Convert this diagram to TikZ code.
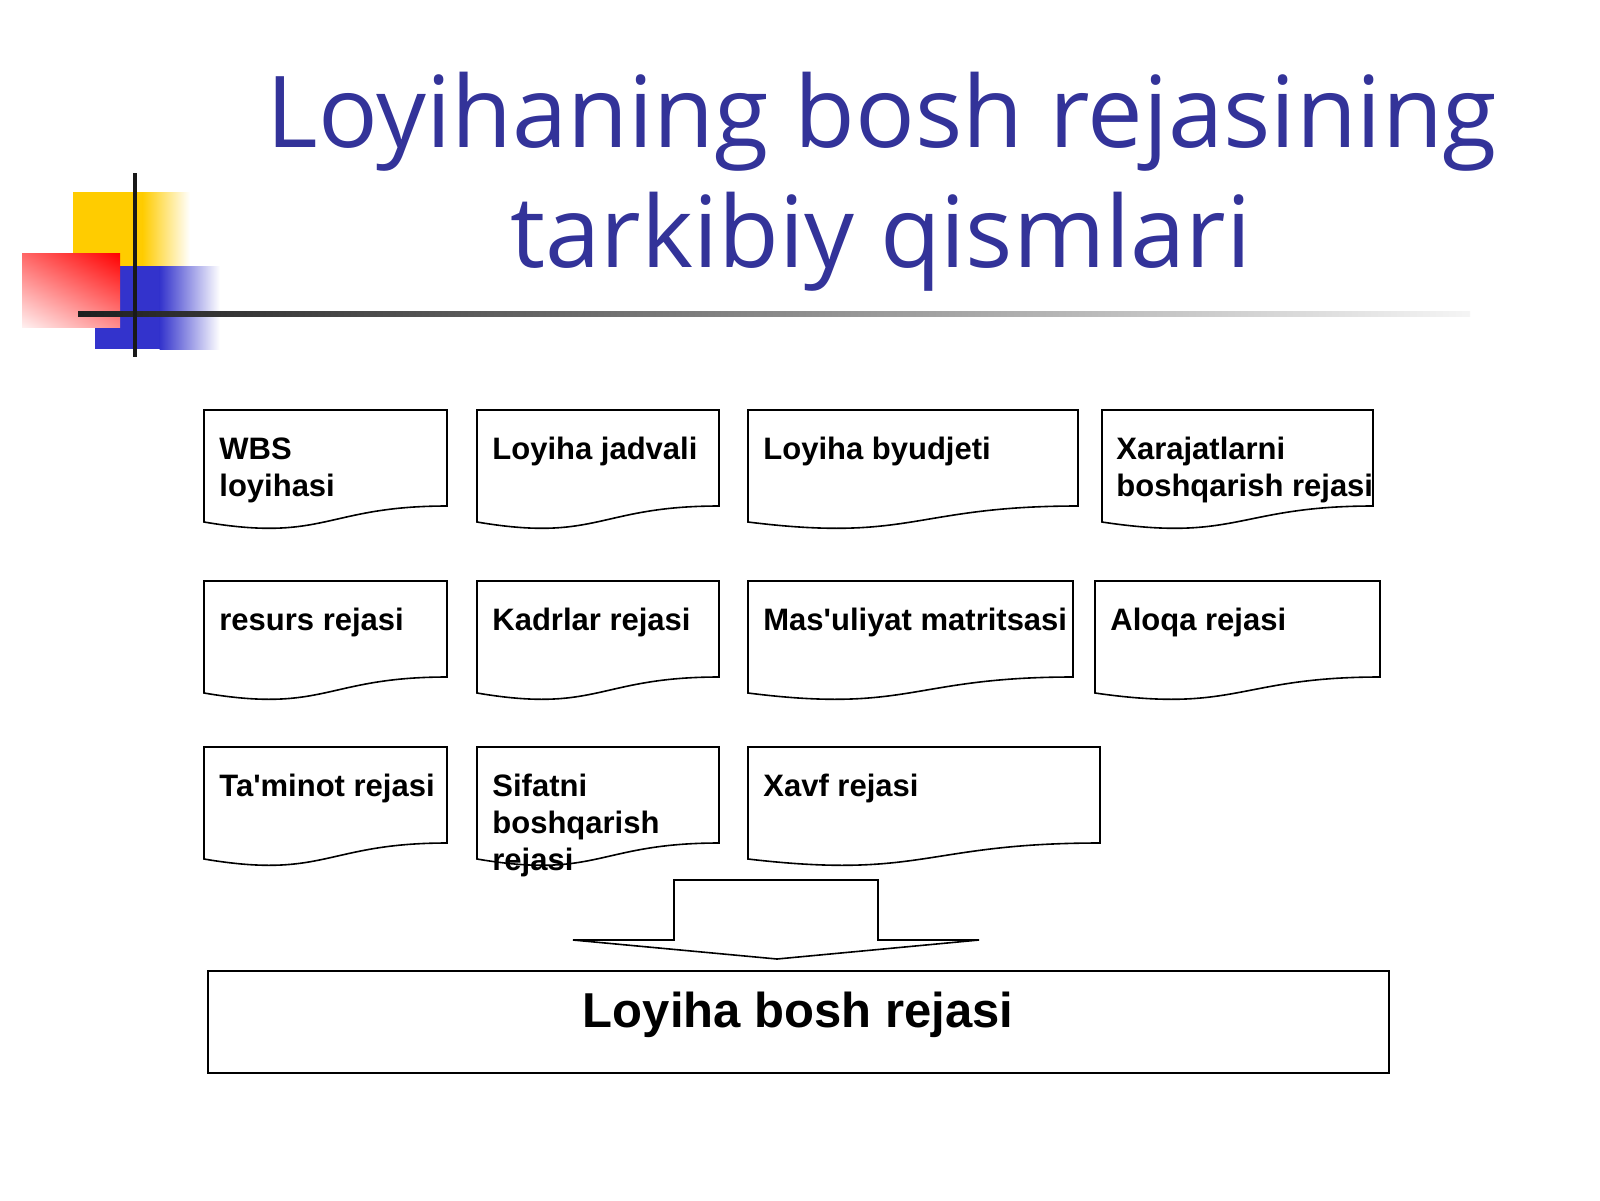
\documentclass[tikz,border=0pt]{standalone}
\usepackage{fontspec}
\usetikzlibrary{shadings}
\setmainfont{Liberation Sans}[Ligatures=TeXOff]
\newfontfamily\titlefont{Open Sans}
\definecolor{titleblue}{RGB}{51,51,153}
\definecolor{decoyellow}{RGB}{255,204,0}
\definecolor{decoblue}{RGB}{51,51,204}
\newcommand\docshape[3]{%
  \draw[docline] (#1,#3) -- (#2,#3) -- (#2,#3+96)
    .. controls ({(#1+#2)/2},#3+96) and ({(#1+#2)/2},#3+132.6) .. (#1,#3+112) -- cycle;}
\newcommand\boxlines[1]{\vtop{\baselineskip=18.5pt\lineskiplimit=-50pt #1}}
\begin{document}
\begin{tikzpicture}[x=0.5pt,y=-0.5pt,
  docline/.style={draw=black,line width=0.8pt},
  boxtext/.style={anchor=base west,inner sep=0pt,font=\bfseries\fontsize{15.5pt}{18.5pt}\selectfont},
  titletext/.style={anchor=base,inner sep=0pt,text=titleblue,font=\titlefont\fontsize{49.6pt}{58pt}\selectfont}]
\useasboundingbox[fill=white] (0,0) rectangle (1600,1200);
% decoration
\fill[decoyellow] (73,192) rectangle (143,268);
\shade[left color=decoyellow,right color=white] (142.5,192) rectangle (190,268);
\fill[decoblue] (95,266) rectangle (160,349);
\shade[left color=decoblue,right color=white] (159.5,266) rectangle (220,349);
\shade[upper left=red!60!white,upper right=red,lower left=red!6!white,lower right=red!45!white] (22,253) rectangle (120,327);
\shade[left color=black!88,middle color=black!70,right color=black!4] (78,311.5) rectangle (1470,316.5);
\fill[black!90] (133,173) rectangle (137,357);
% title
\node[titletext] (t1) at (882,147) {Loyihaning bosh rejasining};
\node[titletext] (t2) at (881,267) {tarkibiy qismlari};
% document boxes
\docshape{204}{447}{410}
\docshape{477}{719}{410}
\docshape{748}{1078}{410}
\docshape{1102}{1373}{410}
\docshape{204}{447}{581}
\docshape{477}{719}{581}
\docshape{748}{1073}{581}
\docshape{1095}{1380}{581}
\docshape{204}{447}{747}
\docshape{477}{719}{747}
\docshape{748}{1100}{747}
\node[boxtext] (b1) at (219,459) {\boxlines{\hbox{WBS}\hbox{loyihasi}}};
\node[boxtext] (b2) at (492,459) {Loyiha jadvali};
\node[boxtext] (b3) at (763,459) {Loyiha byudjeti};
\node[boxtext] (b4) at (1116,459) {\boxlines{\hbox{Xarajatlarni}\hbox{boshqarish rejasi}}};
\node[boxtext] (b5) at (219,630) {resurs rejasi};
\node[boxtext] (b6) at (492,630) {Kadrlar rejasi};
\node[boxtext] (b7) at (763,630) {Mas'uliyat matritsasi};
\node[boxtext] (b8) at (1110,630) {Aloqa rejasi};
\node[boxtext] (b9) at (219,796) {Ta'minot rejasi};
\node[boxtext] (b10) at (492,796) {\boxlines{\hbox{Sifatni}\hbox{boshqarish}\hbox{rejasi}}};
\node[boxtext] (b11) at (763,796) {Xavf rejasi};
% block arrow
\draw[docline] (674,880) -- (878,880) -- (878,940) -- (979,940) -- (777,959) -- (573,940) -- (674,940) -- cycle;
% main box
\draw[docline] (208,971) rectangle (1389,1073);
\node[anchor=base,inner sep=0pt,font=\bfseries\fontsize{24.5pt}{28pt}\selectfont] (main) at (798,1027) {Loyiha bosh rejasi};
\end{tikzpicture}
\end{document}
